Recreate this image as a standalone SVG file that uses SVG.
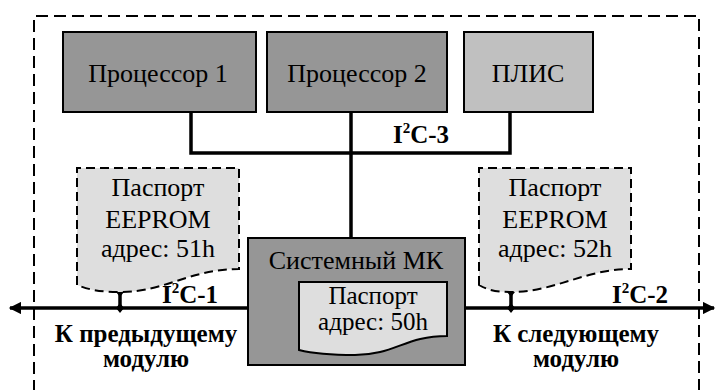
<svg xmlns="http://www.w3.org/2000/svg" width="716" height="390" viewBox="0 0 716 390">
<style>
text{font-family:"Liberation Serif","DejaVu Serif","Noto Serif",serif;fill:#000;text-anchor:middle}
.t{font-size:26px}
.s{font-size:25px}
.b{font-size:25px;font-weight:bold}
.l{font-size:25px;font-weight:bold}
.box{stroke:#000;stroke-width:2}
.dash{stroke:#000;stroke-width:2;stroke-dasharray:9 5;fill:#dedede}
.bus{stroke:#000;stroke-width:3.5;fill:none}
.sup{font-size:15px}
</style>
<defs>
<marker id="arr" viewBox="0 0 10 10" refX="9" refY="5" markerWidth="4.5" markerHeight="3.5" orient="auto" markerUnits="strokeWidth"><path d="M0,0 L10,5 L0,10 z" fill="#000"/></marker>
</defs>
<path d="M34,392 V16 H699 V392" fill="none" stroke="#000" stroke-width="2" stroke-dasharray="12 6"/>
<g id="connectors">
<path class="bus" d="M191,112 V153 H510 V112"/>
<path class="bus" d="M351,112 V238"/>
<path class="bus" d="M248,308 H10" marker-end="url(#arr)"/>
<path class="bus" d="M465,308 H714" marker-end="url(#arr)"/>
<path class="bus" stroke-width="2.5" d="M120,292 V308"/>
<path class="bus" stroke-width="2.5" d="M511,292 V308"/>
<path d="M120,287 L124,292 L120,297 L116,292 Z M120,303 L124,308 L120,313 L116,308 Z" fill="#000"/>
<path d="M511,287 L515,292 L511,297 L507,292 Z M511,303 L515,308 L511,313 L507,308 Z" fill="#000"/>
<text class="b" x="421" y="143">I<tspan class="sup" dy="-10">2</tspan><tspan dy="10">C-3</tspan></text>
<text class="b" x="190" y="303">I<tspan class="sup" dy="-10">2</tspan><tspan dy="10">C-1</tspan></text>
<text class="b" x="640" y="303">I<tspan class="sup" dy="-10">2</tspan><tspan dy="10">C-2</tspan></text>
<text class="l" x="146" y="342">К предыдущему</text>
<text class="l" x="146" y="367">модулю</text>
<text class="l" x="576" y="342">К следующему</text>
<text class="l" x="576" y="367">модулю</text>
</g>
<g id="proc1">
<rect class="box" x="63" y="32" width="193" height="80" fill="#969696"/>
<text class="t" x="158" y="82">Процессор 1</text>
</g>
<g id="proc2">
<rect class="box" x="267" y="32" width="180" height="80" fill="#969696"/>
<text class="t" x="357" y="82">Процессор 2</text>
</g>
<g id="plis">
<rect class="box" x="464" y="32" width="129" height="80" fill="#c0c0c0"/>
<text class="t" x="528" y="82">ПЛИС</text>
</g>
<g id="eeprom1">
<path class="dash" d="M77,285 V168 H239 V269 C190,269 165,292 120,292 C100,292 90,290 77,285 Z"/>
<text class="t" x="158" y="196">Паспорт</text>
<text class="t" x="158" y="228">EEPROM</text>
<text class="t" x="158" y="257">адрес: 51h</text>
</g>
<g id="eeprom2">
<path class="dash" d="M479,285 V168 H631 V269 C585,269 555,292 511,292 C495,292 488,290 479,285 Z"/>
<text class="t" x="555" y="196">Паспорт</text>
<text class="t" x="555" y="228">EEPROM</text>
<text class="t" x="555" y="257">адрес: 52h</text>
</g>
<g id="mk">
<rect class="box" x="248" y="238" width="217" height="127" fill="#969696"/>
<text class="t" x="356" y="269">Системный МК</text>
<path class="box" fill="#dedede" d="M299,350 V282 H447 V336 C405,336 395,355 355,355 C330,355 315,354 299,350 Z"/>
<text class="s" x="373" y="304">Паспорт</text>
<text class="s" x="373" y="330">адрес: 50h</text>
</g>
</svg>
